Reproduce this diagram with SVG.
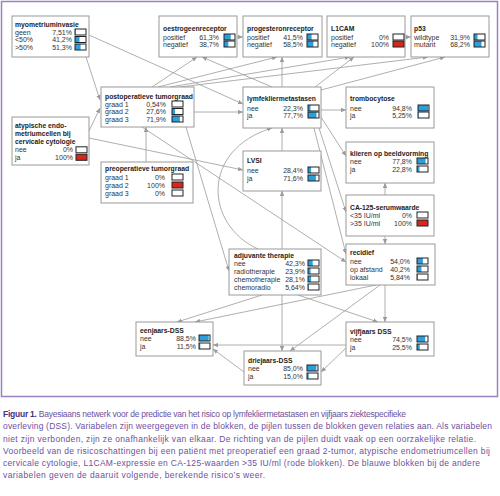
<svg xmlns="http://www.w3.org/2000/svg" width="500" height="496" viewBox="0 0 500 496">
<style>
.box{fill:#fff;stroke:#9a9a9a;stroke-width:1}
.t{font-family:"Liberation Sans",Arial,sans-serif;font-size:8px;font-weight:bold;fill:#222}
.t2{font-size:7.2px}
.r{font-family:"Liberation Sans",Arial,sans-serif;font-size:7px;fill:#333}
.p{text-anchor:end}
.bo{fill:none;stroke:#222;stroke-width:1}
.bl{fill:#2b9fdc}
.rd{fill:#d9261c}
.c{fill:none;stroke:#9a9a9a;stroke-width:0.8}
.cap{font-family:"Liberation Sans",Arial,sans-serif;font-size:8.5px;fill:#6e519e}
.capb{font-weight:bold;fill:#4c2f80}
</style>
<defs>
<marker id="a" viewBox="0 0 8 8" refX="8" refY="4" markerWidth="5" markerHeight="5" orient="auto" markerUnits="userSpaceOnUse">
<path d="M0,0.5 L8,4 L0,7.5 z" fill="#9a9a9a"/>
</marker>
</defs>
<rect id="frame" x="1.5" y="1.5" width="496" height="395" fill="none" stroke="#9c80c0" stroke-width="1.5"/>

<g id="connectors" class="c" marker-end="url(#a)">
<line x1="86" y1="57" x2="100" y2="100"/>
<line x1="89" y1="35" x2="243" y2="104"/>
<line x1="89" y1="131" x2="100" y2="108"/>
<line x1="89" y1="138" x2="243" y2="170"/>
<line x1="146" y1="162" x2="146" y2="127"/>
<line x1="194" y1="112" x2="243" y2="112"/>
<line x1="152" y1="87" x2="197" y2="57"/>
<line x1="158" y1="87" x2="277" y2="57"/>
<line x1="170" y1="87" x2="350" y2="57"/>
<line x1="180" y1="87" x2="428" y2="57"/>
<line x1="272" y1="87" x2="202" y2="57"/>
<line x1="282" y1="87" x2="282" y2="57"/>
<line x1="315" y1="87" x2="354" y2="57"/>
<line x1="321" y1="90" x2="445" y2="57"/>
<line x1="237" y1="37" x2="243" y2="37"/>
<line x1="405" y1="37" x2="411" y2="37"/>
<line x1="321" y1="110" x2="346" y2="110"/>
<line x1="321" y1="117" x2="346" y2="156"/>
<line x1="319" y1="128" x2="346" y2="212"/>
<line x1="314" y1="128" x2="346" y2="254"/>
<line x1="282" y1="151" x2="282" y2="128"/>
<line x1="282" y1="249" x2="282" y2="191"/>
<path d="M258,249 C205,225 200,150 272,128"/>
<line x1="186" y1="127" x2="229" y2="271"/>
<line x1="142" y1="127" x2="346" y2="262"/>
<line x1="385" y1="195" x2="385" y2="183"/>
<line x1="385" y1="236" x2="385" y2="244"/>
<line x1="385" y1="285" x2="385" y2="322"/>
<line x1="380" y1="285" x2="290" y2="351"/>
<line x1="376" y1="285" x2="195" y2="322"/>
<line x1="262" y1="295" x2="177" y2="322"/>
<line x1="282" y1="295" x2="282" y2="351"/>
<line x1="298" y1="295" x2="378" y2="322"/>
<line x1="346" y1="345" x2="213" y2="345"/>
<line x1="346" y1="348" x2="321" y2="372"/>
<line x1="244" y1="372" x2="213" y2="349"/>
</g>

<g id="myometriuminvasie">
<rect class="box" x="12" y="16" width="77" height="41"/>
<text class="t" transform="translate(15 26.5) scale(0.85 1)">myometriuminvasie</text>
<text class="r" x="15" y="34.5">geen</text><text class="r p" x="72" y="34.5">7,51%</text>
<rect class="bl" x="75" y="29" width="0.8" height="6"/><rect class="bo" x="75" y="29" width="11" height="6"/>
<text class="r" x="15" y="42">&lt;50%</text><text class="r p" x="72" y="42">41,2%</text>
<rect class="bl" x="75" y="36.5" width="4.5" height="6"/><rect class="bo" x="75" y="36.5" width="11" height="6"/>
<text class="r" x="15" y="49.5">&gt;50%</text><text class="r p" x="72" y="49.5">51,3%</text>
<rect class="bl" x="75" y="44" width="5.6" height="6"/><rect class="bo" x="75" y="44" width="11" height="6"/>
</g>

<g id="oestrogeenreceptor">
<rect class="box" x="159" y="16" width="78" height="41"/>
<text class="t" transform="translate(163 30.5) scale(0.85 1)">oestrogeenreceptor</text>
<text class="r" x="163" y="39.5">positief</text><text class="r p" x="219" y="39.5">61,3%</text>
<rect class="bl" x="224" y="34" width="6.7" height="6"/><rect class="bo" x="224" y="34" width="11" height="6"/>
<text class="r" x="163" y="46.5">negatief</text><text class="r p" x="219" y="46.5">38,7%</text>
<rect class="bl" x="224" y="41" width="4.3" height="6"/><rect class="bo" x="224" y="41" width="11" height="6"/>
</g>

<g id="progesteronreceptor">
<rect class="box" x="243" y="16" width="79" height="41"/>
<text class="t" transform="translate(247 30.5) scale(0.85 1)">progesteronreceptor</text>
<text class="r" x="247" y="39.5">positief</text><text class="r p" x="303" y="39.5">41,5%</text>
<rect class="bl" x="307" y="34" width="4.6" height="6"/><rect class="bo" x="307" y="34" width="11" height="6"/>
<text class="r" x="247" y="46.5">negatief</text><text class="r p" x="303" y="46.5">58,5%</text>
<rect class="bl" x="307" y="41" width="6.4" height="6"/><rect class="bo" x="307" y="41" width="11" height="6"/>
</g>

<g id="L1CAM">
<rect class="box" x="327" y="16" width="78" height="41"/>
<text class="t" transform="translate(331 30.5) scale(0.85 1)">L1CAM</text>
<text class="r" x="331" y="39.5">positief</text><text class="r p" x="389" y="39.5">0%</text>
<rect class="bo" x="393" y="34" width="11" height="6"/>
<text class="r" x="331" y="46.5">negatief</text><text class="r p" x="389" y="46.5">100%</text>
<rect class="rd" x="393" y="41" width="11" height="6"/><rect class="bo" x="393" y="41" width="11" height="6"/>
</g>

<g id="p53">
<rect class="box" x="411" y="16" width="78" height="41"/>
<text class="t" transform="translate(414 30.5) scale(0.85 1)">p53</text>
<text class="r" x="414" y="39.5">wildtype</text><text class="r p" x="470" y="39.5">31,9%</text>
<rect class="bl" x="474" y="34" width="3.5" height="6"/><rect class="bo" x="474" y="34" width="11" height="6"/>
<text class="r" x="414" y="46.5">mutant</text><text class="r p" x="470" y="46.5">68,2%</text>
<rect class="bl" x="474" y="41" width="7.5" height="6"/><rect class="bo" x="474" y="41" width="11" height="6"/>
</g>

<g id="postoperatieve-tumorgraad">
<rect class="box" x="101" y="87" width="93" height="40"/>
<text class="t" transform="translate(105 98.5) scale(0.85 1)">postoperatieve tumorgraad</text>
<text class="r" x="105" y="106.5">graad 1</text><text class="r p" x="166" y="106.5">0,54%</text>
<rect class="bo" x="172" y="101" width="11" height="6"/>
<text class="r" x="105" y="114">graad 2</text><text class="r p" x="166" y="114">27,6%</text>
<rect class="bl" x="172" y="108.5" width="3" height="6"/><rect class="bo" x="172" y="108.5" width="11" height="6"/>
<text class="r" x="105" y="121.5">graad 3</text><text class="r p" x="166" y="121.5">71,9%</text>
<rect class="bl" x="172" y="116" width="7.9" height="6"/><rect class="bo" x="172" y="116" width="11" height="6"/>
</g>

<g id="lymfekliermetastasen">
<rect class="box" x="243" y="87" width="78" height="41"/>
<text class="t" transform="translate(247 101) scale(0.85 1)">lymfekliermetastasen</text>
<text class="r" x="247" y="110.5">nee</text><text class="r p" x="303" y="110.5">22,3%</text>
<rect class="bl" x="308" y="105" width="2.5" height="6"/><rect class="bo" x="308" y="105" width="11" height="6"/>
<text class="r" x="247" y="117.5">ja</text><text class="r p" x="303" y="117.5">77,7%</text>
<rect class="bl" x="308" y="112" width="8.5" height="6"/><rect class="bo" x="308" y="112" width="11" height="6"/>
</g>

<g id="trombocytose">
<rect class="box" x="346" y="87" width="88" height="41"/>
<text class="t" transform="translate(350 101) scale(0.85 1)">trombocytose</text>
<text class="r" x="350" y="110.5">nee</text><text class="r p" x="412" y="110.5">94,8%</text>
<rect class="bl" x="418" y="105" width="10.4" height="6"/><rect class="bo" x="418" y="105" width="11" height="6"/>
<text class="r" x="350" y="117.5">ja</text><text class="r p" x="412" y="117.5">5,25%</text>
<rect class="bl" x="418" y="112" width="0.6" height="6"/><rect class="bo" x="418" y="112" width="11" height="6"/>
</g>

<g id="atypische-endometriumcellen">
<rect class="box" x="12" y="117" width="77" height="48"/>
<text class="t t2" transform="translate(15 127.5) scale(0.94 1)">atypische endo-</text>
<text class="t t2" transform="translate(15 135.8) scale(0.94 1)">metriumcellen bij</text>
<text class="t t2" transform="translate(15 144.1) scale(0.94 1)">cervicale cytologie</text>
<text class="r" x="15" y="152.3">nee</text><text class="r p" x="73" y="152.3">0%</text>
<rect class="bo" x="76" y="146.8" width="11" height="6"/>
<text class="r" x="15" y="159.8">ja</text><text class="r p" x="73" y="159.8">100%</text>
<rect class="rd" x="76" y="154.3" width="11" height="6"/><rect class="bo" x="76" y="154.3" width="11" height="6"/>
</g>

<g id="preoperatieve-tumorgraad">
<rect class="box" x="101" y="162" width="92" height="41"/>
<text class="t" transform="translate(105 171) scale(0.85 1)">preoperatieve tumorgraad</text>
<text class="r" x="105" y="179.5">graad 1</text><text class="r p" x="165" y="179.5">0%</text>
<rect class="bo" x="172" y="174" width="11" height="6"/>
<text class="r" x="105" y="187.5">graad 2</text><text class="r p" x="165" y="187.5">100%</text>
<rect class="rd" x="172" y="182" width="11" height="6"/><rect class="bo" x="172" y="182" width="11" height="6"/>
<text class="r" x="105" y="195.5">graad 3</text><text class="r p" x="165" y="195.5">0%</text>
<rect class="bo" x="172" y="190" width="11" height="6"/>
</g>

<g id="LVSI">
<rect class="box" x="243" y="151" width="78" height="40"/>
<text class="t" transform="translate(247 162.5) scale(0.85 1)">LVSI</text>
<text class="r" x="247" y="172.5">nee</text><text class="r p" x="303" y="172.5">28,4%</text>
<rect class="bl" x="308" y="167" width="3.1" height="6"/><rect class="bo" x="308" y="167" width="11" height="6"/>
<text class="r" x="247" y="180.5">ja</text><text class="r p" x="303" y="180.5">71,6%</text>
<rect class="bl" x="308" y="175" width="7.9" height="6"/><rect class="bo" x="308" y="175" width="11" height="6"/>
</g>

<g id="klieren-op-beeldvorming">
<rect class="box" x="346" y="142" width="88" height="41"/>
<text class="t" transform="translate(350 155.5) scale(0.85 1)">klieren op beeldvorming</text>
<text class="r" x="350" y="163.5">nee</text><text class="r p" x="412" y="163.5">77,8%</text>
<rect class="bl" x="417" y="158" width="8.6" height="6"/><rect class="bo" x="417" y="158" width="11" height="6"/>
<text class="r" x="350" y="171.5">ja</text><text class="r p" x="412" y="171.5">22,8%</text>
<rect class="bl" x="417" y="166" width="2.5" height="6"/><rect class="bo" x="417" y="166" width="11" height="6"/>
</g>

<g id="CA-125-serumwaarde">
<rect class="box" x="346" y="195" width="88" height="41"/>
<text class="t" transform="translate(350 209.5) scale(0.85 1)">CA-125-serumwaarde</text>
<text class="r" x="350" y="217.5">&lt;35 IU/ml</text><text class="r p" x="412" y="217.5">0%</text>
<rect class="bo" x="417" y="212" width="11" height="6"/>
<text class="r" x="350" y="225.5">&gt;35 IU/ml</text><text class="r p" x="412" y="225.5">100%</text>
<rect class="rd" x="417" y="220" width="11" height="6"/><rect class="bo" x="417" y="220" width="11" height="6"/>
</g>

<g id="recidief">
<rect class="box" x="346" y="244" width="89" height="41"/>
<text class="t" transform="translate(350 254.5) scale(0.85 1)">recidief</text>
<text class="r" x="350" y="263.5">nee</text><text class="r p" x="410" y="263.5">54,0%</text>
<rect class="bl" x="417" y="258" width="5.9" height="6"/><rect class="bo" x="417" y="258" width="11" height="6"/>
<text class="r" x="350" y="271.5">op afstand</text><text class="r p" x="410" y="271.5">40,2%</text>
<rect class="bl" x="417" y="266" width="4.4" height="6"/><rect class="bo" x="417" y="266" width="11" height="6"/>
<text class="r" x="350" y="279.5">lokaal</text><text class="r p" x="410" y="279.5">5,84%</text>
<rect class="bl" x="417" y="274" width="0.7" height="6"/><rect class="bo" x="417" y="274" width="11" height="6"/>
</g>

<g id="adjuvante-therapie">
<rect class="box" x="229" y="249" width="92" height="46"/>
<text class="t" transform="translate(234 257.5) scale(0.85 1)">adjuvante therapie</text>
<text class="r" x="234" y="265.5">nee</text><text class="r p" x="305" y="265.5">42,3%</text>
<rect class="bl" x="308" y="260" width="4.7" height="6"/><rect class="bo" x="308" y="260" width="11" height="6"/>
<text class="r" x="234" y="273.5">radiotherapie</text><text class="r p" x="305" y="273.5">23,9%</text>
<rect class="bl" x="308" y="268" width="2.6" height="6"/><rect class="bo" x="308" y="268" width="11" height="6"/>
<text class="r" x="234" y="281.5">chemotherapie</text><text class="r p" x="305" y="281.5">28,1%</text>
<rect class="bl" x="308" y="276" width="3.1" height="6"/><rect class="bo" x="308" y="276" width="11" height="6"/>
<text class="r" x="234" y="289.5">chemoradio</text><text class="r p" x="305" y="289.5">5,64%</text>
<rect class="bl" x="308" y="284" width="0.7" height="6"/><rect class="bo" x="308" y="284" width="11" height="6"/>
</g>

<g id="eenjaars-DSS">
<rect class="box" x="136" y="322" width="77" height="34"/>
<text class="t" transform="translate(140 332.5) scale(0.85 1)">eenjaars-DSS</text>
<text class="r" x="140" y="340.5">nee</text><text class="r p" x="196" y="340.5">88,5%</text>
<rect class="bl" x="199" y="335" width="9.7" height="6"/><rect class="bo" x="199" y="335" width="11" height="6"/>
<text class="r" x="140" y="348.5">ja</text><text class="r p" x="196" y="348.5">11,5%</text>
<rect class="bl" x="199" y="343" width="1.3" height="6"/><rect class="bo" x="199" y="343" width="11" height="6"/>
</g>

<g id="driejaars-DSS">
<rect class="box" x="244" y="351" width="77" height="34"/>
<text class="t" transform="translate(248 362.5) scale(0.85 1)">driejaars-DSS</text>
<text class="r" x="248" y="370.5">nee</text><text class="r p" x="303" y="370.5">85,0%</text>
<rect class="bl" x="307" y="365" width="9.4" height="6"/><rect class="bo" x="307" y="365" width="11" height="6"/>
<text class="r" x="248" y="378.5">ja</text><text class="r p" x="303" y="378.5">15,0%</text>
<rect class="bl" x="307" y="373" width="1.7" height="6"/><rect class="bo" x="307" y="373" width="11" height="6"/>
</g>

<g id="vijfjaars-DSS">
<rect class="box" x="346" y="322" width="88" height="34"/>
<text class="t" transform="translate(350 333.5) scale(0.85 1)">vijfjaars DSS</text>
<text class="r" x="350" y="341.5">nee</text><text class="r p" x="412" y="341.5">74,5%</text>
<rect class="bl" x="417" y="336" width="8.2" height="6"/><rect class="bo" x="417" y="336" width="11" height="6"/>
<text class="r" x="350" y="349.5">ja</text><text class="r p" x="412" y="349.5">25,5%</text>
<rect class="bl" x="417" y="344" width="2.8" height="6"/><rect class="bo" x="417" y="344" width="11" height="6"/>
</g>

<g id="caption" class="cap">
<text x="3" y="417" textLength="403" lengthAdjust="spacing"><tspan class="capb">Figuur 1.</tspan> Bayesiaans netwerk voor de predictie van het risico op lymfekliermetastasen en vijfjaars ziektespecifieke</text>
<text x="3" y="429" textLength="489" lengthAdjust="spacing">overleving (DSS). Variabelen zijn weergegeven in de blokken, de pijlen tussen de blokken geven relaties aan. Als variabelen</text>
<text x="3" y="441.5" textLength="473" lengthAdjust="spacing">niet zijn verbonden, zijn ze onafhankelijk van elkaar. De richting van de pijlen duidt vaak op een oorzakelijke relatie.</text>
<text x="3" y="453.5" textLength="487" lengthAdjust="spacing">Voorbeeld van de risicoschattingen bij een patiënt met preoperatief een graad 2-tumor, atypische endometriumcellen bij</text>
<text x="3" y="465.5" textLength="477" lengthAdjust="spacing">cervicale cytologie, L1CAM-expressie en CA-125-waarden &gt;35 IU/ml (rode blokken). De blauwe blokken bij de andere</text>
<text x="3" y="477.5" textLength="262" lengthAdjust="spacing">variabelen geven de daaruit volgende, berekende risico’s weer.</text>
</g>
</svg>
